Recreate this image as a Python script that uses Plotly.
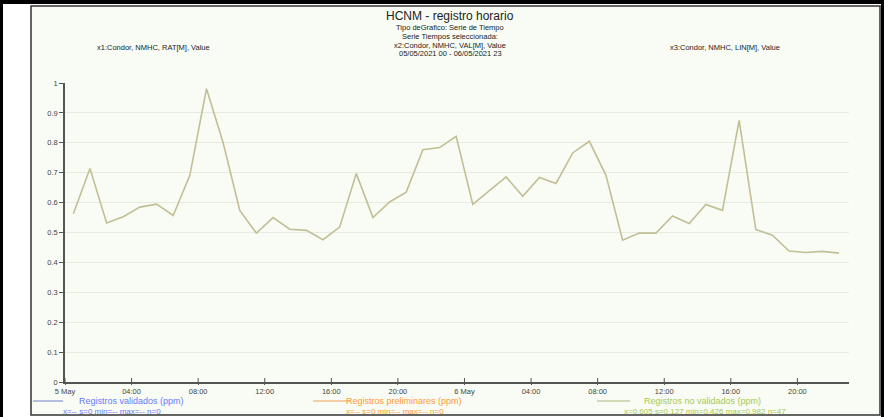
import plotly.graph_objects as go
import pandas as pd

# ---- data ----
start = pd.Timestamp("2021-05-05 00:30")
hours = list(range(47))
times = [start + pd.Timedelta(hours=h) for h in hours]
values = [0.563, 0.714, 0.532, 0.553, 0.585, 0.595, 0.557, 0.691, 0.981, 0.800,
          0.574, 0.498, 0.550, 0.511, 0.507, 0.476, 0.518, 0.697, 0.550, 0.602,
          0.635, 0.777, 0.784, 0.822, 0.594, 0.639, 0.686, 0.621, 0.684, 0.664,
          0.766, 0.805, 0.691, 0.474, 0.498, 0.498, 0.555, 0.530, 0.594, 0.574,
          0.875, 0.510, 0.491, 0.438, 0.433, 0.437, 0.431]
tick_times = [pd.Timestamp("2021-05-05 00:00") + pd.Timedelta(hours=4 * k) for k in range(12)]
tick_text = ["5 May", "04:00", "08:00", "12:00", "16:00", "20:00",
             "6 May", "04:00", "08:00", "12:00", "16:00", "20:00"]
y_ticks = [0, 0.1, 0.2, 0.3, 0.4, 0.5, 0.6, 0.7, 0.8, 0.9, 1]
y_text = ["0", "0.1", "0.2", "0.3", "0.4", "0.5", "0.6", "0.7", "0.8", "0.9", "1"]

title = "HCNM - registro horario"
subtitle_lines = ["Tipo deGrafico: Serie de Tiempo", "Serie Tiempos seleccionada:",
                  "x2:Condor, NMHC, VAL[M], Value", "05/05/2021 00 - 06/05/2021 23"]
x1_label = "x1:Condor, NMHC, RAT[M], Value"
x3_label = "x3:Condor, NMHC, LIN[M], Value"
legend_names = ["Registros validados (ppm)", "Registros preliminares (ppm)", "Registros no validados (ppm)"]
legend_stats = ["x=-- s=0 min=-- max=-- n=0", "x=-- s=0 min=-- max=-- n=0",
                "x=0.605 s=0.127 min=0.426 max=0.982 n=47"]

# ---- geometry (pixels) ----
W, H = 884, 417
L, R, T, B = 65, 849, 83, 382
pw, ph = R - L, B - T

def px(x):
    return (x - L) / pw

def py(y):
    return (B - y) / ph

FONT = "Liberation Sans Narrow, Arial Narrow, Liberation Sans, Arial, sans-serif"
line_color = "#c2bf95"

fig = go.Figure()
fig.add_trace(go.Scatter(x=times, y=values, mode="lines",
                         line=dict(color=line_color, width=1.6),
                         showlegend=False, hoverinfo="x+y"))

shapes = []
# outer black bands
shapes.append(dict(type="rect", xref="paper", yref="paper", x0=px(0), x1=px(W), y0=py(0), y1=py(4),
                   fillcolor="black", line=dict(width=0), layer="below"))
shapes.append(dict(type="rect", xref="paper", yref="paper", x0=px(0), x1=px(3), y0=py(0), y1=py(H),
                   fillcolor="black", line=dict(width=0), layer="below"))
shapes.append(dict(type="rect", xref="paper", yref="paper", x0=px(881), x1=px(W), y0=py(0), y1=py(H),
                   fillcolor="black", line=dict(width=0), layer="below"))
# inner frame
shapes.append(dict(type="rect", xref="paper", yref="paper", x0=px(31), x1=px(880), y0=py(6), y1=py(415),
                   fillcolor="#f8fcf4", line=dict(color="#333333", width=1.5), layer="below"))
# legend line samples
leg_colors = ["#7080c8", "#f0a050", "#a8b878"]
leg_x = [(33, 63), (313, 350), (597, 630)]
for (a, b), c in zip(leg_x, leg_colors):
    shapes.append(dict(type="line", xref="paper", yref="paper", x0=px(a), x1=px(b), y0=py(401), y1=py(401),
                       line=dict(color=c, width=1)))
# small tick crosses on the x axis (ticks cross the axis line in the reference)
for t in tick_times:
    shapes.append(dict(type="line", xref="x", yref="paper", x0=t, x1=t, y0=0, y1=py(378),
                       line=dict(color="#555555", width=1)))


def label(text, x, y, size, color):
    return dict(text=text, x=px(x), y=py(y), xref="paper", yref="paper", showarrow=False,
                xanchor="center", yanchor="middle",
                font=dict(size=size, color=color, family=FONT))


ann = [label(title, 450, 16, 12, "#222222")]
for i, s in enumerate(subtitle_lines):
    ann.append(label(s, 450, 28 + 8.5 * i, 7.5, "#222222"))
ann.append(label(x1_label, 153, 47, 7.5, "#222222"))
ann.append(label(x3_label, 725, 47, 7.5, "#222222"))
leg_text_colors = ["#6a78ff", "#ff9a30", "#a8c850"]
leg_name_x = [131, 404, 702]
leg_stat_x = [112, 395, 705]
for n, s, c, xn, xs in zip(legend_names, legend_stats, leg_text_colors, leg_name_x, leg_stat_x):
    ann.append(label(n, xn, 401, 9, c))
    ann.append(label(s, xs, 411, 8, c))

fig.update_layout(
    width=W, height=H,
    margin=dict(l=L, r=W - R, t=T, b=H - B, pad=0),
    paper_bgcolor="white", plot_bgcolor="rgba(0,0,0,0)",
    shapes=shapes, annotations=ann, showlegend=False,
    font=dict(family=FONT, size=8, color="#333333"),
)
fig.update_xaxes(range=[pd.Timestamp("2021-05-05 00:00"), pd.Timestamp("2021-05-06 23:06")],
                 tickmode="array", tickvals=tick_times, ticktext=tick_text,
                 showgrid=False, showline=True, linecolor="#555555", linewidth=1.5,
                 ticks="outside", ticklen=1, tickcolor="#555555",
                 tickfont=dict(size=7.5, color="#444444", family=FONT), zeroline=False)
fig.update_yaxes(range=[0, 1], tickmode="array", tickvals=y_ticks, ticktext=y_text,
                 showgrid=True, gridcolor="#e6ece0", gridwidth=1,
                 showline=True, linecolor="#555555", linewidth=1.5,
                 ticks="outside", ticklen=4, tickcolor="#555555",
                 tickfont=dict(size=7.5, color="#444444", family=FONT), zeroline=False)

fig.write_html("out.html", config={"displayModeBar": False})

# remove the default page margin so the figure sits at the window's top-left corner
with open("out.html", "r", encoding="utf-8") as f:
    html = f.read()
html = html.replace("<head>", "<head><style>html,body{margin:0;padding:0;overflow:hidden;}</style>", 1)
with open("out.html", "w", encoding="utf-8") as f:
    f.write(html)
